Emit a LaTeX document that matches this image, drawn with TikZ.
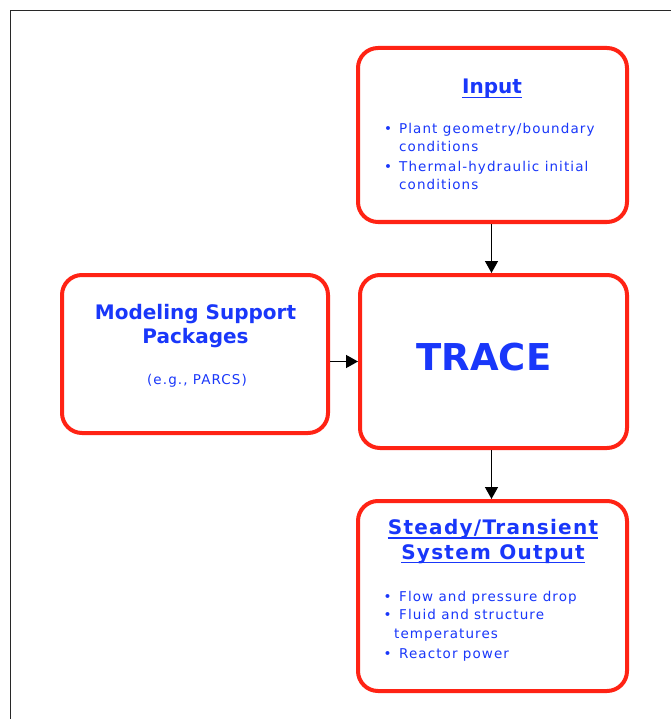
\documentclass[tikz,border=0pt]{standalone}
\usepackage{fontspec}
\setmainfont{DejaVu Sans}
\usetikzlibrary{arrows.meta}
\definecolor{boxred}{RGB}{255,35,20}
\definecolor{txtblue}{RGB}{25,55,250}
\definecolor{framegray}{RGB}{40,40,40}
\tikzset{
  rbox/.style={draw=boxred, line width=4pt, rounded corners=20pt, fill=white, inner sep=0pt},
  conn/.style={draw=black, line width=1.4pt, -{Triangle[length=12pt,width=13pt]}},
  ttl/.style={text=txtblue, font=\fontsize{20}{24}\selectfont\bfseries, inner sep=0pt, anchor=base},
  sttl/.style={ttl, font=\fontsize{20}{24}\selectfont\bfseries\addfontfeature{LetterSpace=6.5}},
  item/.style={text=txtblue, font=\fontsize{13.5}{16}\selectfont\addfontfeature{LetterSpace=8}, inner sep=0pt, anchor=base west},
  blt/.style={text=txtblue, font=\fontsize{13.5}{16}\selectfont, inner sep=0pt, anchor=base},
  uline/.style={draw=txtblue, line width=1.3pt}
}
\begin{document}
\begin{tikzpicture}[x=1pt,y=-1pt]
\useasboundingbox (0,0) rectangle (671,719);
\draw[framegray, line width=1.5pt] (10.5,719) -- (10.5,10.5) -- (671,10.5);
\node[rbox, minimum width=269pt, minimum height=174pt] (input) at (492.5,135) {};
\node[rbox, minimum width=266pt, minimum height=158pt] (model) at (195,354) {};
\node[rbox, minimum width=267pt, minimum height=173pt] (trace) at (493.5,361.5) {};
\node[rbox, minimum width=269pt, minimum height=190pt] (output) at (492.5,596) {};
\coordinate (ax) at (491.5,0);
\draw[conn] (ax |- input.south) -- (ax |- trace.north);
\draw[conn] (ax |- trace.south) -- (ax |- output.north);
\draw[conn] (model.east |- trace.west) -- (trace.west);
\node[ttl] (tin) at (492,94) {Input};
\draw[uline] ([yshift=-3.5pt]tin.base west) -- ([yshift=-3.5pt]tin.base east);
\node[blt] (b1) at (388,134) {\char"2022};
\node[item] (i1) at (399,134) {Plant geometry/boundary};
\node[item] (i2) at (399,151.5) {conditions};
\node[blt] (b2) at (388,171.5) {\char"2022};
\node[item] (i3) at (399,171.5) {Thermal-hydraulic initial};
\node[item] (i4) at (399,190) {conditions};
\node[ttl] (m1) at (195.5,319.5) {Modeling Support};
\node[ttl] (m2) at (195.5,343.5) {Packages};
\node[item, anchor=base] (m3) at (197,384) {(e.g., PARCS)};
\node[text=txtblue, font=\fontsize{37}{44}\selectfont\bfseries, inner sep=0pt, anchor=base] (tr) at (484,370) {TRACE};
\node[sttl] (o1) at (493,534.5) {Steady/Transient};
\draw[uline] ([yshift=-3.5pt]o1.base west) -- ([yshift=-3.5pt]o1.base east);
\node[sttl] (o2) at (493,559) {System Output};
\draw[uline] ([yshift=-3.5pt]o2.base west) -- ([yshift=-3.5pt]o2.base east);
\node[blt] (c1) at (387.5,601) {\char"2022};
\node[item] (j1) at (399,601) {Flow and pressure drop};
\node[blt] (c2) at (387.5,619.5) {\char"2022};
\node[item] (j2) at (399,619.5) {Fluid and structure};
\node[item] (j3) at (394,638) {temperatures};
\node[blt] (c3) at (387.5,658) {\char"2022};
\node[item] (j4) at (399,658) {Reactor power};
\end{tikzpicture}
\end{document}
